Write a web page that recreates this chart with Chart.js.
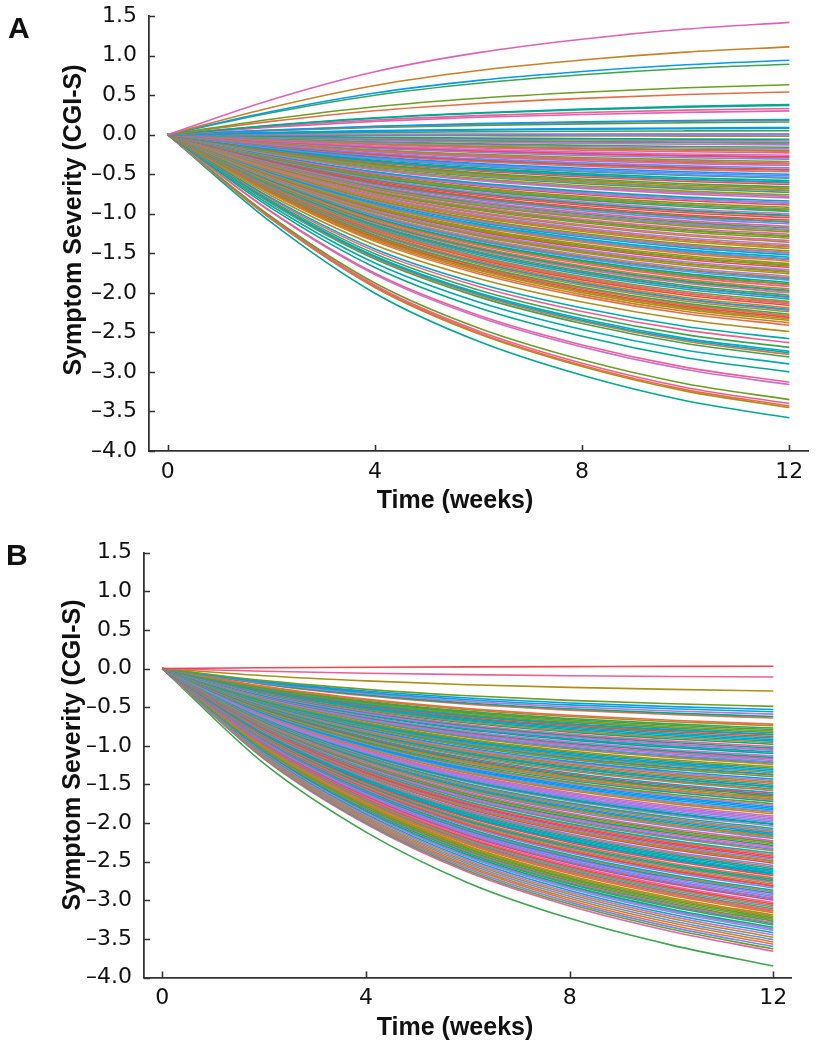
<!DOCTYPE html>
<html><head><meta charset="utf-8">
<script src="https://cdn.jsdelivr.net/npm/chart.js@4.4.1/dist/chart.umd.min.js"></script>
<style>
html,body{margin:0;padding:0;background:#fff;}
#wrap{position:relative;width:817px;height:1050px;background:#fff;}
canvas{position:absolute;left:0;}
#ca{top:0;} #cb{top:525px;}
</style></head><body>
<div id="wrap"><canvas id="ca" width="817" height="525"></canvas><canvas id="cb" width="817" height="525"></canvas></div>
<script>
// visit weeks at which each trajectory is sampled
const weeks = [0, 2, 4, 6, 8, 10, 12];
const xTickValues = [0, 4, 8, 12];
const yTickValues = [-4, -3.5, -3, -2.5, -2, -1.5, -1, -0.5, 0, 0.5, 1, 1.5];

// share of the week-12 change reached at each visit
const shareA = [0, 0.31, 0.56, 0.73, 0.85, 0.94, 1];
const shareB = [0, 0.32, 0.55, 0.72, 0.84, 0.93, 1];

// Panel A: change in CGI-S at week 12, one value per trajectory
const week12A = [
  1.42, 1.11, 0.94, 0.89, 0.63, 0.54, 0.38, 0.37, 0.33, 0.30, 0.19, 0.18, 0.16, 0.09, 0.08, 0.05, 0.01, 0.00, -0.02,
  -0.06, -0.08, -0.10, -0.11, -0.13, -0.16, -0.18, -0.20, -0.21, -0.23,
  -0.26, -0.28, -0.29, -0.31, -0.34, -0.36, -0.37, -0.39, -0.42, -0.44,
  -0.45, -0.47, -0.50, -0.52, -0.54, -0.55, -0.58, -0.60, -0.61, -0.63,
  -0.66, -0.68, -0.70, -0.71, -0.73, -0.76, -0.78, -0.80, -0.84, -0.86,
  -0.87, -0.89, -0.92, -0.94, -0.95, -0.97, -1.00, -1.02, -1.03, -1.05,
  -1.08, -1.10, -1.11, -1.13, -1.16, -1.18, -1.20, -1.21, -1.23, -1.26,
  -1.28, -1.29, -1.31, -1.34, -1.36, -1.39, -1.41, -1.42, -1.44, -1.47,
  -1.49, -1.50, -1.52, -1.55, -1.57, -1.58, -1.60, -1.63, -1.65, -1.66,
  -1.68, -1.71, -1.73, -1.74, -1.76, -1.79, -1.81, -1.82, -1.84, -1.87,
  -1.89, -1.90, -1.92, -1.95, -1.97, -1.98, -2.00, -2.03, -2.05, -2.06,
  -2.08, -2.11, -2.13, -2.14, -2.16, -2.19, -2.21, -2.22, -2.24, -2.27,
  -2.29, -2.31, -2.33, -2.35, -2.38, -2.41,
  -2.49, -2.58, -2.63, -2.69, -2.74, -2.76, -2.78, -2.81, -2.90, -3.00, -3.13, -3.16, -3.35, -3.40, -3.43, -3.45, -3.58
];

// Panel B: change in CGI-S at week 12, one value per trajectory
const week12B = [
  0.03, -0.11, -0.29, -0.49, -0.53, -0.56, -0.59, -0.62, -0.64,
  -0.72, -0.74, -0.77, -0.79, -0.81, -0.83, -0.85, -0.86, -0.88, -0.90,
  -0.92, -0.94, -0.96, -0.98, -1.01, -1.03, -1.05, -1.06, -1.08, -1.10,
  -1.13, -1.15, -1.17, -1.19, -1.21, -1.22, -1.24, -1.27, -1.29, -1.31,
  -1.33, -1.35, -1.37, -1.38, -1.40, -1.43, -1.45, -1.47, -1.49, -1.51,
  -1.53, -1.54, -1.56, -1.58, -1.61, -1.63, -1.65, -1.67, -1.69, -1.70,
  -1.72, -1.75, -1.77, -1.79, -1.81, -1.83, -1.85, -1.86, -1.88, -1.91,
  -1.93, -1.95, -1.97, -1.99, -2.01, -2.02, -2.04, -2.07, -2.09, -2.11,
  -2.13, -2.15, -2.17, -2.18, -2.20, -2.23, -2.25, -2.27, -2.29, -2.31,
  -2.33, -2.34, -2.36, -2.39, -2.41, -2.43, -2.45, -2.47, -2.49, -2.50,
  -2.52, -2.55, -2.57, -2.59, -2.61, -2.63, -2.65, -2.66, -2.68, -2.71,
  -2.73, -2.75, -2.77, -2.79, -2.81, -2.82, -2.84, -2.87, -2.89, -2.91,
  -2.93, -2.95, -2.97, -2.98, -3.00, -3.03, -3.05, -3.07, -3.09, -3.11,
  -3.13, -3.14, -3.16, -3.19, -3.21, -3.23, -3.25, -3.27, -3.29, -3.30,
  -3.32, -3.35, -3.37, -3.39, -3.42, -3.45, -3.48, -3.51, -3.54, -3.57,
  -3.60, -3.63, -3.66,
  -3.85
];

const palette = ['#009AFA','#E36F47','#3EA44E','#C371D2','#AC8E18','#00AAAE','#ED5E93','#C68225',
                 '#00A98D','#8E971D','#00A8CB','#9B7FE9','#618DF6','#F0454F','#DD64B5','#6B9E21'];

// colours of the clearly distinguishable outer trajectories (by position in the arrays above)
const outerColorsA = {
  0: '#DD64B5', 1: '#C68225', 2: '#009AFA', 3: '#3EA44E', 4: '#6B9E21', 5: '#E36F47',
  6: '#00A98D', 7: '#00AAAE', 8: '#ED5E93', 9: '#DD64B5',
  135: '#AC8E18', 136: '#00AAAE', 137: '#ED5E93', 138: '#3EA44E', 139: '#00A8CB', 140: '#00AAAE',
  141: '#E36F47', 142: '#3EA44E', 143: '#00AAAE', 144: '#00A98D', 145: '#ED5E93', 146: '#C371D2',
  147: '#6B9E21', 148: '#ED5E93', 149: '#E36F47', 150: '#AC8E18', 151: '#00A98D'
};
const outerColorsB = {
  0: '#F0454F', 1: '#ED5E93', 2: '#AC8E18', 3: '#6B9E21', 4: '#009AFA', 5: '#00A8CB',
  6: '#C371D2', 7: '#00A98D', 8: '#E36F47', 152: '#3EA44E'
};

function colorFor(i, seed, overrides) {
  if (overrides[i]) return overrides[i];
  let h = Math.imul((i + seed) ^ 0x5bd1e995, 0x27d4eb2d);
  h ^= h >>> 15;
  h = Math.imul(h, 0x165667b1);
  h ^= h >>> 13;
  return palette[(h >>> 0) % palette.length];
}

const TICK_FONT = { family: '"DejaVu Sans", sans-serif', size: 22 };
const BOLD = '"Liberation Sans", Arial, Helvetica, sans-serif';

const decor = {
  id: 'decor',
  afterDraw(chart, args, o) {
    const { ctx, chartArea: ca } = chart;
    const x = chart.scales.x, y = chart.scales.y;
    ctx.save();
    ctx.strokeStyle = '#333';
    ctx.lineWidth = 1.6;
    ctx.beginPath();
    yTickValues.forEach(v => { const py = Math.round(y.getPixelForValue(v)) + 0.5; ctx.moveTo(ca.left, py); ctx.lineTo(ca.left + 6, py); });
    xTickValues.forEach(v => { const px = Math.round(x.getPixelForValue(v)) + 0.5; ctx.moveTo(px, ca.bottom); ctx.lineTo(px, ca.bottom - 6); });
    ctx.stroke();
    ctx.fillStyle = '#111';
    ctx.textBaseline = 'alphabetic';
    ctx.textAlign = 'left';
    ctx.font = 'bold 30px ' + BOLD;
    ctx.fillText(o.letter, o.lx, o.ly);
    ctx.font = 'bold 25px ' + BOLD;
    ctx.textAlign = 'center';
    ctx.fillText('Time (weeks)', o.xtx, o.xty);
    ctx.translate(o.ytx, o.yty);
    ctx.rotate(-Math.PI / 2);
    ctx.fillText('Symptom Severity (CGI-S)', 0, 0);
    ctx.restore();
  }
};

function makeChart(id, ends, share, g) {
  const datasets = ends.map((v, i) => ({
    data: weeks.map((w, j) => ({ x: w, y: v * share[j] })),
    borderColor: colorFor(i, g.seed, g.overrides),
    borderWidth: 1.6,
    pointRadius: 0,
    pointHoverRadius: 0,
    fill: false,
    cubicInterpolationMode: 'monotone'
  }));
  return new Chart(document.getElementById(id), {
    type: 'line',
    data: { datasets },
    plugins: [decor],
    options: {
      responsive: false,
      devicePixelRatio: 1,
      animation: false,
      events: [],
      layout: { padding: { top: g.top, right: g.right, left: 0, bottom: 0 } },
      plugins: {
        legend: { display: false },
        tooltip: { enabled: false },
        decor: g.decor
      },
      scales: {
        x: {
          type: 'linear', min: -0.36, max: 12.36,
          afterBuildTicks: s => { s.ticks = xTickValues.map(v => ({ value: v })); },
          afterFit: s => { s.height = g.xh; s.paddingLeft = 0; s.paddingRight = 0; },
          grid: { display: false, drawTicks: false },
          border: { display: true, color: '#333', width: 1.8 },
          ticks: { font: TICK_FONT, color: '#111', padding: 8, maxRotation: 0, autoSkip: false,
                   callback: v => String(v) }
        },
        y: {
          type: 'linear', min: -4, max: 1.5,
          afterBuildTicks: s => { s.ticks = yTickValues.map(v => ({ value: v })); },
          afterFit: s => { s.width = g.yw; s.paddingTop = 0; s.paddingBottom = 0; },
          grid: { display: false, drawTicks: false },
          border: { display: true, color: '#333', width: 1.8 },
          ticks: { font: TICK_FONT, color: '#111', padding: 12, autoSkip: false,
                   callback: v => (v < 0 ? '\u2013' : '') + Math.abs(v).toFixed(1) }
        }
      }
    }
  });
}

makeChart('ca', week12A, shareA, {
  seed: 0, overrides: outerColorsA, top: 16, right: 9, yw: 149, xh: 74,
  decor: { letter: 'A', lx: 8, ly: 38, xtx: 455, xty: 508, ytx: 81, yty: 220 }
});
makeChart('cb', week12B, shareB, {
  seed: 997, overrides: outerColorsB, top: 27.7, right: 25.4, yw: 144, xh: 72.5,
  decor: { letter: 'B', lx: 6, ly: 40, xtx: 455, xty: 510, ytx: 80, yty: 230 }
});
</script>
</body></html>
